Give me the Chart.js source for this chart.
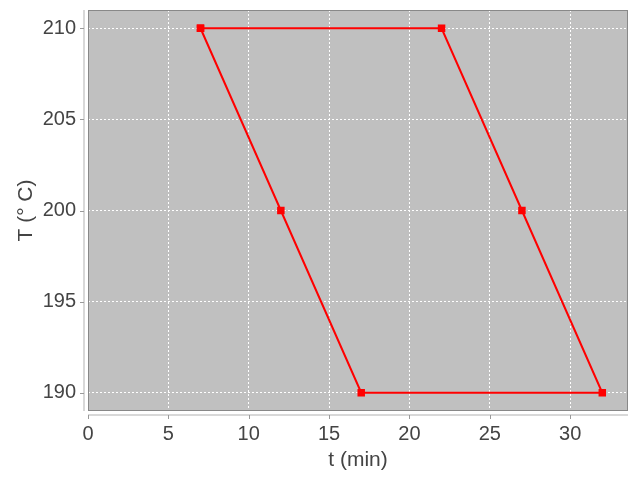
<!DOCTYPE html>
<html>
<head>
<meta charset="utf-8">
<script src="https://cdn.jsdelivr.net/npm/chart.js@4"></script>
<style>
  html, body { margin: 0; padding: 0; background: #ffffff; }
  #wrap { width: 640px; height: 480px; }
</style>
</head>
<body>
<div id="wrap"><canvas id="c" width="640" height="480"></canvas></div>
<script>
const tValues = [7, 22, 27, 32, 17, 12, 7];
const TValues = [210, 210, 200, 190, 190, 200, 210];
const xTicks = [0, 5, 10, 15, 20, 25, 30];
const yTicks = [190, 195, 200, 205, 210];
const xLabel = 't (min)';
const yLabel = 'T (° C)';

const points = tValues.map((t, i) => ({ x: t, y: TValues[i] }));

const plotDecor = {
  id: 'plotDecor',
  beforeDraw(chart) {
    const { ctx, chartArea: a } = chart;
    ctx.save();
    ctx.fillStyle = '#c0c0c0';
    ctx.fillRect(a.left, a.top, a.right - a.left, a.bottom - a.top);
    ctx.restore();
  },
  afterDatasetsDraw(chart) {
    const { ctx, chartArea: a, scales } = chart;
    ctx.save();
    ctx.strokeStyle = '#888888';
    ctx.lineWidth = 1;
    ctx.strokeRect(a.left + 0.5, a.top + 0.5, a.right - a.left - 1, a.bottom - a.top - 1);
    // offset axis lines
    ctx.strokeStyle = '#d8d8d8';
    ctx.lineWidth = 2;
    ctx.beginPath();
    ctx.moveTo(a.left - 4, a.top);
    ctx.lineTo(a.left - 4, a.bottom);
    ctx.moveTo(a.left, a.bottom + 4);
    ctx.lineTo(a.right, a.bottom + 4);
    ctx.stroke();
    // tick marks
    ctx.strokeStyle = '#999999';
    ctx.lineWidth = 1;
    ctx.beginPath();
    yTicks.forEach(v => {
      const y = Math.round(scales.y.getPixelForValue(v)) + 0.5;
      ctx.moveTo(a.left - 8, y);
      ctx.lineTo(a.left - 4, y);
    });
    xTicks.forEach(v => {
      const x = Math.round(scales.x.getPixelForValue(v)) + 0.5;
      ctx.moveTo(x, a.bottom + 4);
      ctx.lineTo(x, a.bottom + 8);
    });
    ctx.stroke();
    ctx.restore();
  }
};

new Chart(document.getElementById('c'), {
  type: 'line',
  data: {
    datasets: [{
      data: points,
      borderColor: '#ff0000',
      backgroundColor: '#ff0000',
      borderWidth: 2,
      pointStyle: 'rect',
      pointRadius: 5.3,
      pointHoverRadius: 5.3,
      pointBorderWidth: 0,
      fill: false,
      tension: 0
    }]
  },
  options: {
    responsive: false,
    animation: false,
    events: [],
    layout: { padding: { left: 0, right: 12, top: 10, bottom: 0 } },
    plugins: { legend: { display: false }, tooltip: { enabled: false } },
    scales: {
      x: {
        type: 'linear',
        min: 0,
        max: 33.6,
        afterBuildTicks: s => { s.ticks = xTicks.map(v => ({ value: v })); },
        afterFit: s => { s.height = 69; s.paddingLeft = 0; s.paddingRight = 0; },
        grid: { color: '#ffffff', lineWidth: 1, drawTicks: false },
        border: { display: false, dash: [2, 2] },
        ticks: { color: '#444444', font: { family: 'Liberation Sans', size: 20 }, padding: 11, maxRotation: 0 },
        title: { display: true, text: xLabel, color: '#444444', font: { family: 'Liberation Sans', size: 21 }, padding: { top: 0, bottom: 7 } }
      },
      y: {
        type: 'linear',
        min: 189,
        max: 211,
        afterBuildTicks: s => { s.ticks = yTicks.map(v => ({ value: v })); },
        afterFit: s => { s.width = 88; s.paddingTop = 0; s.paddingBottom = 0; },
        grid: { color: '#ffffff', lineWidth: 1, drawTicks: false },
        border: { display: false, dash: [2, 2] },
        ticks: { color: '#444444', font: { family: 'Liberation Sans', size: 20 }, padding: 12 },
        title: { display: true, text: yLabel, color: '#444444', font: { family: 'Liberation Sans', size: 21 }, padding: { top: 14, bottom: 0 } }
      }
    }
  },
  plugins: [plotDecor]
});
</script>
</body>
</html>
